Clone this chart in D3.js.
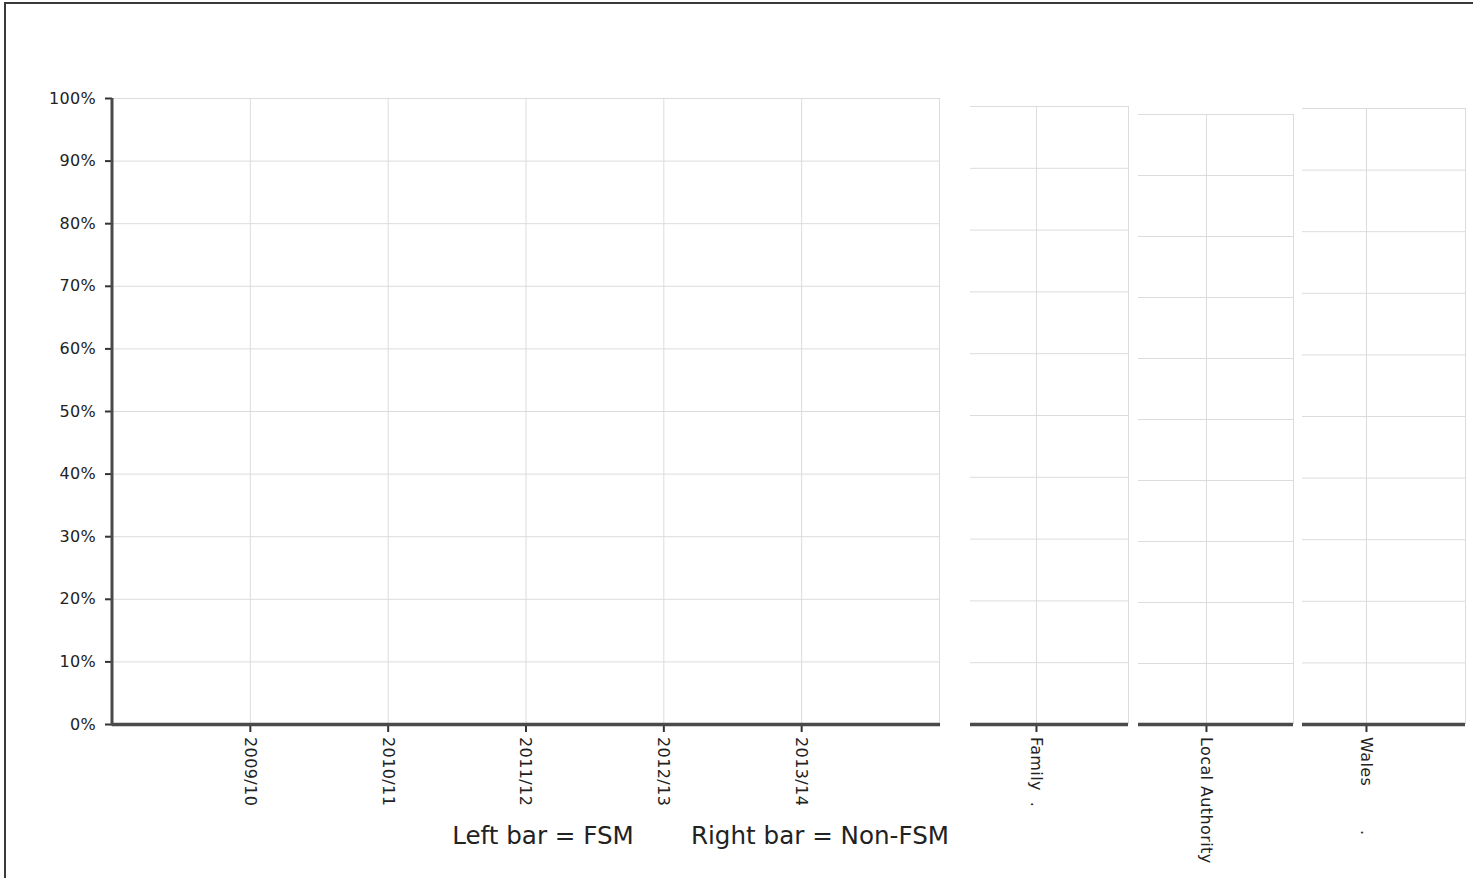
<!DOCTYPE html>
<html>
<head>
<meta charset="utf-8">
<script src="https://cdn.jsdelivr.net/npm/d3@7"></script>
<style>
  html, body { margin: 0; padding: 0; background: #fff; }
  svg { display: block; }
  text { font-family: "DejaVu Sans", Verdana, sans-serif; fill: #222; }
</style>
</head>
<body>
<svg id="chart" width="1473" height="878"></svg>
<script>
// ---- data ----
const years = ["2009/10", "2010/11", "2011/12", "2012/13", "2013/14"];
const comparisons = ["Family", "Local Authority", "Wales"];
const comparisonLabels = ["Family  .", "Local Authority", "Wales        ."];
const yTicks = [0, 0.1, 0.2, 0.3, 0.4, 0.5, 0.6, 0.7, 0.8, 0.9, 1.0];
// Series values (no bars are drawn in the reference: all values missing)
const fsmYears = [null, null, null, null, null];
const nonFsmYears = [null, null, null, null, null];
const fsmComparisons = [null, null, null];
const nonFsmComparisons = [null, null, null];
const legendTexts = ["Left bar = FSM", "Right bar = Non-FSM"];

const svg = d3.select("#chart");
const W = 1473, H = 878;

// outer border
svg.append("rect").attr("x", 5).attr("y", 3).attr("width", W).attr("height", H)
  .attr("fill", "none").attr("stroke", "#3a3a3a").attr("stroke-width", 2);

const bottom = 724;
const gridColor = "#dcdcdc";
const axisColor = "#4a4a4a";

function drawGrid(g, x0, x1, y, xs) {
  g.selectAll("line.h").data(yTicks).join("line").attr("class", "h")
    .attr("x1", x0).attr("x2", x1).attr("y1", d => y(d) + 0.5).attr("y2", d => y(d) + 0.5)
    .attr("stroke", gridColor).attr("stroke-width", 1);
  g.selectAll("line.v").data(xs).join("line").attr("class", "v")
    .attr("x1", d => d + 0.5).attr("x2", d => d + 0.5).attr("y1", y(1)).attr("y2", bottom)
    .attr("stroke", gridColor).attr("stroke-width", 1);
}

function drawBars(g, cats, xs, y, a, b, bw) {
  const data = [];
  cats.forEach((c, i) => {
    if (a[i] != null) data.push({ x: xs(c) - bw, v: a[i], col: "#4f81bd" });
    if (b[i] != null) data.push({ x: xs(c), v: b[i], col: "#c0504d" });
  });
  g.selectAll("rect.bar").data(data).join("rect").attr("class", "bar")
    .attr("x", d => d.x).attr("width", bw)
    .attr("y", d => y(d.v)).attr("height", d => bottom - y(d.v)).attr("fill", d => d.col);
}

// ---- main panel ----
const mx0 = 112, mx1 = 939;
const yMain = d3.scaleLinear().domain([0, 1]).range([bottom, 98]);
const xMain = d3.scalePoint().domain(years).range([mx0, mx1]).padding(1);
const gMain = svg.append("g");
drawGrid(gMain, mx0, mx1, yMain, years.map(d => xMain(d)).concat([mx1]));
drawBars(gMain, years, xMain, yMain, fsmYears, nonFsmYears, 30);

// y axis
const yAx = svg.append("g").attr("transform", `translate(${mx0},0)`)
  .call(d3.axisLeft(yMain).tickValues(yTicks).tickFormat(d3.format(".0%")).tickSize(7).tickPadding(9));
yAx.select(".domain").remove();
yAx.append("line").attr("x1", 0).attr("x2", 0).attr("y1", yMain(1)).attr("y2", bottom + 1.5)
  .attr("stroke", axisColor).attr("stroke-width", 3);
yAx.selectAll(".tick line").attr("stroke", "#333").attr("stroke-width", 2);
yAx.selectAll(".tick text").attr("font-size", 16).attr("letter-spacing", 0.3).style("fill", "#222");

function xAxis(x0, x1, xs) {
  const g = svg.append("g").attr("transform", `translate(0,${bottom})`)
    .call(d3.axisBottom(xs).tickSize(8).tickSizeOuter(0));
  g.select(".domain").remove();
  g.append("line").attr("x1", x0).attr("x2", x1).attr("y1", 0.5).attr("y2", 0.5)
    .attr("stroke", axisColor).attr("stroke-width", 3.5);
  g.selectAll(".tick line").attr("stroke", "#333").attr("stroke-width", 2);
  g.selectAll(".tick text")
    .attr("transform", "rotate(90)")
    .attr("x", 13).attr("y", 0).attr("dy", "0.35em")
    .attr("text-anchor", "start")
    .attr("font-size", 16)
    .attr("letter-spacing", 0.4)
    .style("white-space", "pre")
    .style("fill", "#222");
  return g;
}
xAxis(mx0, mx1 + 1, xMain);

// ---- comparison panels ----
const panels = [
  { x0: 970, x1: 1128, top: 106, f: 0.835 },
  { x0: 1138, x1: 1293, top: 114, f: 0.877 },
  { x0: 1302, x1: 1465, top: 108, f: 0.785 }
];
comparisons.forEach((c, i) => {
  const p = panels[i];
  const y = d3.scaleLinear().domain([0, 1]).range([bottom, p.top]);
  const x = d3.scalePoint().domain([c]).range([p.x0, p.x0 + (p.x1 - p.x0) * p.f]);
  const g = svg.append("g");
  drawGrid(g, p.x0, p.x1, y, [x(c), p.x1]);
  drawBars(g, [c], x, y, [fsmComparisons[i]], [nonFsmComparisons[i]], 30);
  const ax = xAxis(p.x0, p.x1, x);
  ax.selectAll(".tick text").text(comparisonLabels[i]);
});

// legend text
svg.append("text").attr("x", 543).attr("y", 844).attr("text-anchor", "middle")
  .attr("font-size", 24.6).style("fill", "#222").text(legendTexts[0]);
svg.append("text").attr("x", 820).attr("y", 844).attr("text-anchor", "middle")
  .attr("font-size", 24.6).style("fill", "#222").text(legendTexts[1]);
</script>
</body>
</html>
